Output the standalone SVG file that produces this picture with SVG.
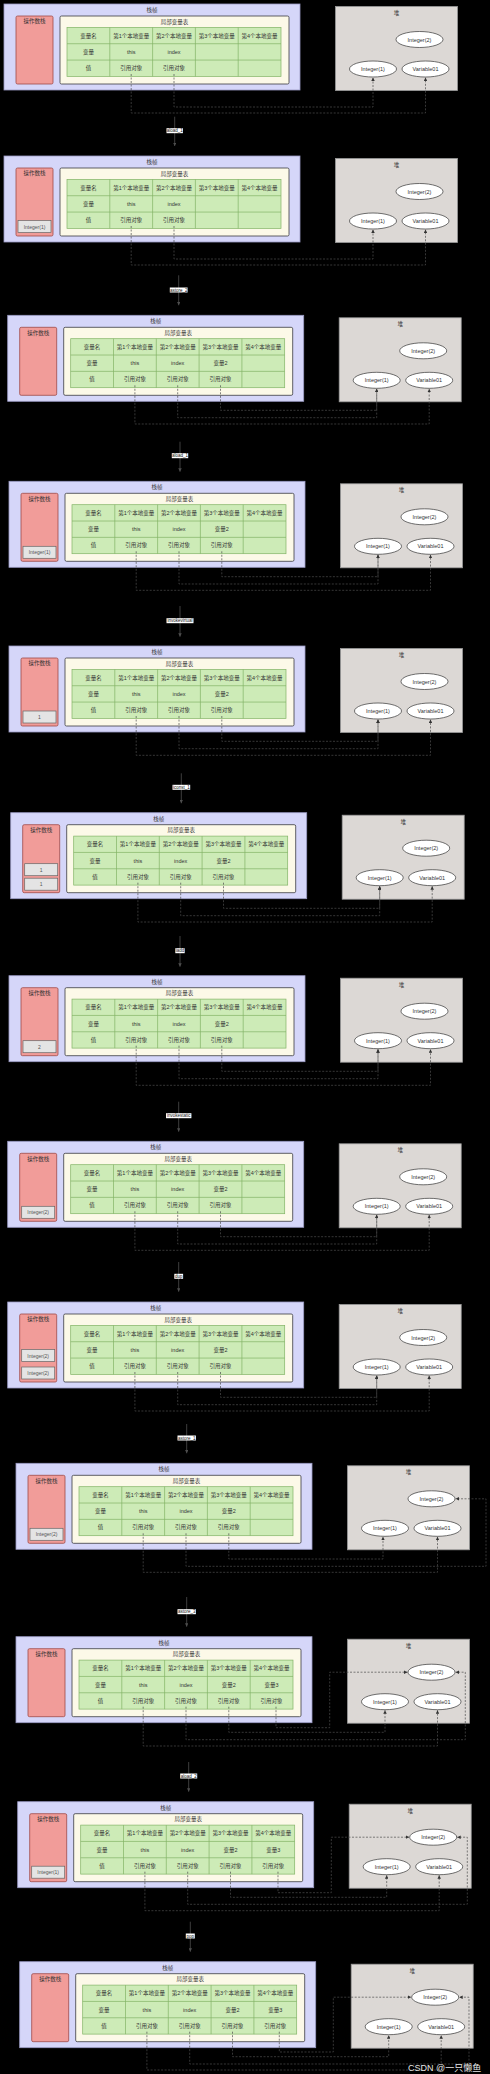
<svg xmlns="http://www.w3.org/2000/svg" xmlns:xlink="http://www.w3.org/1999/xlink" width="490" height="2074" viewBox="0 0 490 2074">
<style>
.sf{fill:#D5D6F9;stroke:#9A9AC4;stroke-width:0.8}
.os{fill:#F19C99;stroke:#9E4A47;stroke-width:0.8}
.lv{fill:#FCF9E8;stroke:#3A3A40;stroke-width:0.8}
.tb{fill:#CDEBB7;stroke:#82B366;stroke-width:0.7}
.tbl{fill:none;stroke:#82B366;stroke-width:0.7}
.hp{fill:#DCD8D5;stroke:#9A9A9A;stroke-width:0.8}
.el{fill:#FFFFFF;stroke:#333333;stroke-width:0.7}
.oi{fill:#E4E4E4;stroke:#666666;stroke-width:0.7}
.t{font-family:"Liberation Sans","Noto Sans CJK SC",sans-serif;font-size:5.5px;fill:#333;text-anchor:middle;dominant-baseline:central}
.ts{font-family:"Liberation Sans","Noto Sans CJK SC",sans-serif;font-size:5px;fill:#555;text-anchor:middle;dominant-baseline:central}
.c{fill:none;stroke:#4E4E4E;stroke-width:0.7;stroke-dasharray:2 1.5;marker-end:url(#ah)}
.tr{fill:none;stroke:#4E4E4E;stroke-width:0.8;marker-end:url(#ah2)}
.lb{fill:#FFFFFF}
.lt{font-family:"Liberation Sans",sans-serif;font-size:4.5px;fill:#111;text-anchor:middle;dominant-baseline:central}
.wm{font-family:"Liberation Sans","Noto Sans CJK SC",sans-serif;font-size:9px;fill:#E6E6E6}
</style>
<defs>
<marker id="ah" viewBox="0 0 6 6" refX="6" refY="3" markerWidth="3.5" markerHeight="3.5" orient="auto" markerUnits="userSpaceOnUse"><path d="M0,0L6,3L0,6z" fill="#333"/></marker>
<marker id="ah2" viewBox="0 0 6 6" refX="6" refY="3" markerWidth="3.5" markerHeight="3.5" orient="auto" markerUnits="userSpaceOnUse"><path d="M0,0L6,3L0,6z" fill="#4E4E4E"/></marker>
<g id="stackShape">
<rect x="0" y="0" width="296" height="86" class="sf"/>
<rect x="12" y="12" width="37" height="68" rx="1.5" class="os"/>
<rect x="56" y="12" width="229" height="68" rx="1.5" class="lv"/>
<rect x="63" y="23.4" width="214" height="49" class="tb"/>
<path d="M105.8,23.4V72.4M148.6,23.4V72.4M191.4,23.4V72.4M234.2,23.4V72.4M63,39.73H277M63,56.07H277" class="tbl"/>
</g>
<g id="heapShape">
<rect x="331.5" y="2.5" width="122" height="84" class="hp"/>
<ellipse cx="415.5" cy="35.5" rx="23.5" ry="8" class="el"/>
<ellipse cx="369" cy="65" rx="23.5" ry="8" class="el"/>
<ellipse cx="421.5" cy="65" rx="23.5" ry="8" class="el"/>
</g>
</defs>
<rect x="0" y="0" width="490" height="2074" fill="#000"/>

<!-- Frame 1 -->
<g id="frame1" transform="translate(4,4)">
<g id="f1-stack"><use href="#stackShape"/>
<text class="t" x="148" y="6">栈帧</text><text class="t" x="30.5" y="17.3">操作数栈</text><text class="t" x="170.5" y="17.8">局部变量表</text>
<text class="t" x="84.4" y="31.6">变量名</text><text class="t" x="127.2" y="31.6">第1个本地变量</text><text class="t" x="170" y="31.6">第2个本地变量</text><text class="t" x="212.8" y="31.6">第3个本地变量</text><text class="t" x="255.6" y="31.6">第4个本地变量</text>
<text class="t" x="84.4" y="47.9">变量</text><text class="t" x="127.2" y="47.9">this</text><text class="t" x="170" y="47.9">index</text>
<text class="t" x="84.4" y="64.2">值</text><text class="t" x="127.2" y="64.2">引用对象</text><text class="t" x="170" y="64.2">引用对象</text>
</g>
<g id="f1-heap"><use href="#heapShape"/>
<text class="t" x="392.5" y="9">堆</text><text class="t" x="415.5" y="35.5">Integer(2)</text><text class="t" x="369" y="65">Integer(1)</text><text class="t" x="421.5" y="65">Variable01</text>
</g>
</g>

<!-- Frame 2 -->
<g id="frame2" transform="translate(4,156)">
<g id="f2-stack"><use href="#stackShape"/>
<text class="t" x="148" y="6">栈帧</text><text class="t" x="30.5" y="17.3">操作数栈</text><text class="t" x="170.5" y="17.8">局部变量表</text>
<text class="t" x="84.4" y="31.6">变量名</text><text class="t" x="127.2" y="31.6">第1个本地变量</text><text class="t" x="170" y="31.6">第2个本地变量</text><text class="t" x="212.8" y="31.6">第3个本地变量</text><text class="t" x="255.6" y="31.6">第4个本地变量</text>
<text class="t" x="84.4" y="47.9">变量</text><text class="t" x="127.2" y="47.9">this</text><text class="t" x="170" y="47.9">index</text>
<text class="t" x="84.4" y="64.2">值</text><text class="t" x="127.2" y="64.2">引用对象</text><text class="t" x="170" y="64.2">引用对象</text>
<g id="f2-op1"><rect class="oi" x="14" y="64.5" width="33" height="12"/><text class="ts" x="30.5" y="70.5">Integer(1)</text></g>
</g>
<g id="f2-heap"><use href="#heapShape"/>
<text class="t" x="392.5" y="9">堆</text><text class="t" x="415.5" y="35.5">Integer(2)</text><text class="t" x="369" y="65">Integer(1)</text><text class="t" x="421.5" y="65">Variable01</text>
</g>
</g>

<!-- Frame 3 -->
<g id="frame3" transform="translate(7.7,315.3)">
<g id="f3-stack"><use href="#stackShape"/>
<text class="t" x="148" y="6">栈帧</text><text class="t" x="30.5" y="17.3">操作数栈</text><text class="t" x="170.5" y="17.8">局部变量表</text>
<text class="t" x="84.4" y="31.6">变量名</text><text class="t" x="127.2" y="31.6">第1个本地变量</text><text class="t" x="170" y="31.6">第2个本地变量</text><text class="t" x="212.8" y="31.6">第3个本地变量</text><text class="t" x="255.6" y="31.6">第4个本地变量</text>
<text class="t" x="84.4" y="47.9">变量</text><text class="t" x="127.2" y="47.9">this</text><text class="t" x="170" y="47.9">index</text><text class="t" x="212.8" y="47.9">变量2</text>
<text class="t" x="84.4" y="64.2">值</text><text class="t" x="127.2" y="64.2">引用对象</text><text class="t" x="170" y="64.2">引用对象</text><text class="t" x="212.8" y="64.2">引用对象</text>
</g>
<g id="f3-heap"><use href="#heapShape"/>
<text class="t" x="392.5" y="9">堆</text><text class="t" x="415.5" y="35.5">Integer(2)</text><text class="t" x="369" y="65">Integer(1)</text><text class="t" x="421.5" y="65">Variable01</text>
</g>
</g>

<!-- Frame 4 -->
<g id="frame4" transform="translate(9,481.3)">
<g id="f4-stack"><use href="#stackShape"/>
<text class="t" x="148" y="6">栈帧</text><text class="t" x="30.5" y="17.3">操作数栈</text><text class="t" x="170.5" y="17.8">局部变量表</text>
<text class="t" x="84.4" y="31.6">变量名</text><text class="t" x="127.2" y="31.6">第1个本地变量</text><text class="t" x="170" y="31.6">第2个本地变量</text><text class="t" x="212.8" y="31.6">第3个本地变量</text><text class="t" x="255.6" y="31.6">第4个本地变量</text>
<text class="t" x="84.4" y="47.9">变量</text><text class="t" x="127.2" y="47.9">this</text><text class="t" x="170" y="47.9">index</text><text class="t" x="212.8" y="47.9">变量2</text>
<text class="t" x="84.4" y="64.2">值</text><text class="t" x="127.2" y="64.2">引用对象</text><text class="t" x="170" y="64.2">引用对象</text><text class="t" x="212.8" y="64.2">引用对象</text>
<g id="f4-op1"><rect class="oi" x="14" y="65" width="33" height="12"/><text class="ts" x="30.5" y="71">Integer(1)</text></g>
</g>
<g id="f4-heap"><use href="#heapShape"/>
<text class="t" x="392.5" y="9">堆</text><text class="t" x="415.5" y="35.5">Integer(2)</text><text class="t" x="369" y="65">Integer(1)</text><text class="t" x="421.5" y="65">Variable01</text>
</g>
</g>

<!-- Frame 5 -->
<g id="frame5" transform="translate(9,646)">
<g id="f5-stack"><use href="#stackShape"/>
<text class="t" x="148" y="6">栈帧</text><text class="t" x="30.5" y="17.3">操作数栈</text><text class="t" x="170.5" y="17.8">局部变量表</text>
<text class="t" x="84.4" y="31.6">变量名</text><text class="t" x="127.2" y="31.6">第1个本地变量</text><text class="t" x="170" y="31.6">第2个本地变量</text><text class="t" x="212.8" y="31.6">第3个本地变量</text><text class="t" x="255.6" y="31.6">第4个本地变量</text>
<text class="t" x="84.4" y="47.9">变量</text><text class="t" x="127.2" y="47.9">this</text><text class="t" x="170" y="47.9">index</text><text class="t" x="212.8" y="47.9">变量2</text>
<text class="t" x="84.4" y="64.2">值</text><text class="t" x="127.2" y="64.2">引用对象</text><text class="t" x="170" y="64.2">引用对象</text><text class="t" x="212.8" y="64.2">引用对象</text>
<g id="f5-op1"><rect class="oi" x="14" y="65" width="33" height="12"/><text class="ts" x="30.5" y="71">1</text></g>
</g>
<g id="f5-heap"><use href="#heapShape"/>
<text class="t" x="392.5" y="9">堆</text><text class="t" x="415.5" y="35.5">Integer(2)</text><text class="t" x="369" y="65">Integer(1)</text><text class="t" x="421.5" y="65">Variable01</text>
</g>
</g>

<!-- Frame 6 -->
<g id="frame6" transform="translate(10.7,812.7)">
<g id="f6-stack"><use href="#stackShape"/>
<text class="t" x="148" y="6">栈帧</text><text class="t" x="30.5" y="17.3">操作数栈</text><text class="t" x="170.5" y="17.8">局部变量表</text>
<text class="t" x="84.4" y="31.6">变量名</text><text class="t" x="127.2" y="31.6">第1个本地变量</text><text class="t" x="170" y="31.6">第2个本地变量</text><text class="t" x="212.8" y="31.6">第3个本地变量</text><text class="t" x="255.6" y="31.6">第4个本地变量</text>
<text class="t" x="84.4" y="47.9">变量</text><text class="t" x="127.2" y="47.9">this</text><text class="t" x="170" y="47.9">index</text><text class="t" x="212.8" y="47.9">变量2</text>
<text class="t" x="84.4" y="64.2">值</text><text class="t" x="127.2" y="64.2">引用对象</text><text class="t" x="170" y="64.2">引用对象</text><text class="t" x="212.8" y="64.2">引用对象</text>
<g id="f6-op2"><rect class="oi" x="14" y="51" width="33" height="12"/><text class="ts" x="30.5" y="57">1</text></g>
<g id="f6-op1"><rect class="oi" x="14" y="65.5" width="33" height="12"/><text class="ts" x="30.5" y="71.5">1</text></g>
</g>
<g id="f6-heap"><use href="#heapShape"/>
<text class="t" x="392.5" y="9">堆</text><text class="t" x="415.5" y="35.5">Integer(2)</text><text class="t" x="369" y="65">Integer(1)</text><text class="t" x="421.5" y="65">Variable01</text>
</g>
</g>

<!-- Frame 7 -->
<g id="frame7" transform="translate(9,975.7)">
<g id="f7-stack"><use href="#stackShape"/>
<text class="t" x="148" y="6">栈帧</text><text class="t" x="30.5" y="17.3">操作数栈</text><text class="t" x="170.5" y="17.8">局部变量表</text>
<text class="t" x="84.4" y="31.6">变量名</text><text class="t" x="127.2" y="31.6">第1个本地变量</text><text class="t" x="170" y="31.6">第2个本地变量</text><text class="t" x="212.8" y="31.6">第3个本地变量</text><text class="t" x="255.6" y="31.6">第4个本地变量</text>
<text class="t" x="84.4" y="47.9">变量</text><text class="t" x="127.2" y="47.9">this</text><text class="t" x="170" y="47.9">index</text><text class="t" x="212.8" y="47.9">变量2</text>
<text class="t" x="84.4" y="64.2">值</text><text class="t" x="127.2" y="64.2">引用对象</text><text class="t" x="170" y="64.2">引用对象</text><text class="t" x="212.8" y="64.2">引用对象</text>
<g id="f7-op1"><rect class="oi" x="14" y="65" width="33" height="12"/><text class="ts" x="30.5" y="71">2</text></g>
</g>
<g id="f7-heap"><use href="#heapShape"/>
<text class="t" x="392.5" y="9">堆</text><text class="t" x="415.5" y="35.5">Integer(2)</text><text class="t" x="369" y="65">Integer(1)</text><text class="t" x="421.5" y="65">Variable01</text>
</g>
</g>

<!-- Frame 8 -->
<g id="frame8" transform="translate(7.7,1141.3)">
<g id="f8-stack"><use href="#stackShape"/>
<text class="t" x="148" y="6">栈帧</text><text class="t" x="30.5" y="17.3">操作数栈</text><text class="t" x="170.5" y="17.8">局部变量表</text>
<text class="t" x="84.4" y="31.6">变量名</text><text class="t" x="127.2" y="31.6">第1个本地变量</text><text class="t" x="170" y="31.6">第2个本地变量</text><text class="t" x="212.8" y="31.6">第3个本地变量</text><text class="t" x="255.6" y="31.6">第4个本地变量</text>
<text class="t" x="84.4" y="47.9">变量</text><text class="t" x="127.2" y="47.9">this</text><text class="t" x="170" y="47.9">index</text><text class="t" x="212.8" y="47.9">变量2</text>
<text class="t" x="84.4" y="64.2">值</text><text class="t" x="127.2" y="64.2">引用对象</text><text class="t" x="170" y="64.2">引用对象</text><text class="t" x="212.8" y="64.2">引用对象</text>
<g id="f8-op1"><rect class="oi" x="14" y="65" width="33" height="12"/><text class="ts" x="30.5" y="71">Integer(2)</text></g>
</g>
<g id="f8-heap"><use href="#heapShape"/>
<text class="t" x="392.5" y="9">堆</text><text class="t" x="415.5" y="35.5">Integer(2)</text><text class="t" x="369" y="65">Integer(1)</text><text class="t" x="421.5" y="65">Variable01</text>
</g>
</g>

<!-- Frame 9 -->
<g id="frame9" transform="translate(7.7,1302)">
<g id="f9-stack"><use href="#stackShape"/>
<text class="t" x="148" y="6">栈帧</text><text class="t" x="30.5" y="17.3">操作数栈</text><text class="t" x="170.5" y="17.8">局部变量表</text>
<text class="t" x="84.4" y="31.6">变量名</text><text class="t" x="127.2" y="31.6">第1个本地变量</text><text class="t" x="170" y="31.6">第2个本地变量</text><text class="t" x="212.8" y="31.6">第3个本地变量</text><text class="t" x="255.6" y="31.6">第4个本地变量</text>
<text class="t" x="84.4" y="47.9">变量</text><text class="t" x="127.2" y="47.9">this</text><text class="t" x="170" y="47.9">index</text><text class="t" x="212.8" y="47.9">变量2</text>
<text class="t" x="84.4" y="64.2">值</text><text class="t" x="127.2" y="64.2">引用对象</text><text class="t" x="170" y="64.2">引用对象</text><text class="t" x="212.8" y="64.2">引用对象</text>
<g id="f9-op2"><rect class="oi" x="14" y="47.5" width="33" height="12"/><text class="ts" x="30.5" y="53.5">Integer(2)</text></g>
<g id="f9-op1"><rect class="oi" x="14" y="65" width="33" height="12"/><text class="ts" x="30.5" y="71">Integer(2)</text></g>
</g>
<g id="f9-heap"><use href="#heapShape"/>
<text class="t" x="392.5" y="9">堆</text><text class="t" x="415.5" y="35.5">Integer(2)</text><text class="t" x="369" y="65">Integer(1)</text><text class="t" x="421.5" y="65">Variable01</text>
</g>
</g>

<!-- Frame 10 -->
<g id="frame10" transform="translate(16,1463.3)">
<g id="f10-stack"><use href="#stackShape"/>
<text class="t" x="148" y="6">栈帧</text><text class="t" x="30.5" y="17.3">操作数栈</text><text class="t" x="170.5" y="17.8">局部变量表</text>
<text class="t" x="84.4" y="31.6">变量名</text><text class="t" x="127.2" y="31.6">第1个本地变量</text><text class="t" x="170" y="31.6">第2个本地变量</text><text class="t" x="212.8" y="31.6">第3个本地变量</text><text class="t" x="255.6" y="31.6">第4个本地变量</text>
<text class="t" x="84.4" y="47.9">变量</text><text class="t" x="127.2" y="47.9">this</text><text class="t" x="170" y="47.9">index</text><text class="t" x="212.8" y="47.9">变量2</text>
<text class="t" x="84.4" y="64.2">值</text><text class="t" x="127.2" y="64.2">引用对象</text><text class="t" x="170" y="64.2">引用对象</text><text class="t" x="212.8" y="64.2">引用对象</text>
<g id="f10-op1"><rect class="oi" x="14" y="65" width="33" height="12"/><text class="ts" x="30.5" y="71">Integer(2)</text></g>
</g>
<g id="f10-heap"><use href="#heapShape"/>
<text class="t" x="392.5" y="9">堆</text><text class="t" x="415.5" y="35.5">Integer(2)</text><text class="t" x="369" y="65">Integer(1)</text><text class="t" x="421.5" y="65">Variable01</text>
</g>
</g>

<!-- Frame 11 -->
<g id="frame11" transform="translate(16,1636.7)">
<g id="f11-stack"><use href="#stackShape"/>
<text class="t" x="148" y="6">栈帧</text><text class="t" x="30.5" y="17.3">操作数栈</text><text class="t" x="170.5" y="17.8">局部变量表</text>
<text class="t" x="84.4" y="31.6">变量名</text><text class="t" x="127.2" y="31.6">第1个本地变量</text><text class="t" x="170" y="31.6">第2个本地变量</text><text class="t" x="212.8" y="31.6">第3个本地变量</text><text class="t" x="255.6" y="31.6">第4个本地变量</text>
<text class="t" x="84.4" y="47.9">变量</text><text class="t" x="127.2" y="47.9">this</text><text class="t" x="170" y="47.9">index</text><text class="t" x="212.8" y="47.9">变量2</text><text class="t" x="255.6" y="47.9">变量3</text>
<text class="t" x="84.4" y="64.2">值</text><text class="t" x="127.2" y="64.2">引用对象</text><text class="t" x="170" y="64.2">引用对象</text><text class="t" x="212.8" y="64.2">引用对象</text><text class="t" x="255.6" y="64.2">引用对象</text>
</g>
<g id="f11-heap"><use href="#heapShape"/>
<text class="t" x="392.5" y="9">堆</text><text class="t" x="415.5" y="35.5">Integer(2)</text><text class="t" x="369" y="65">Integer(1)</text><text class="t" x="421.5" y="65">Variable01</text>
</g>
</g>

<!-- Frame 12 -->
<g id="frame12" transform="translate(17.7,1801.7)">
<g id="f12-stack"><use href="#stackShape"/>
<text class="t" x="148" y="6">栈帧</text><text class="t" x="30.5" y="17.3">操作数栈</text><text class="t" x="170.5" y="17.8">局部变量表</text>
<text class="t" x="84.4" y="31.6">变量名</text><text class="t" x="127.2" y="31.6">第1个本地变量</text><text class="t" x="170" y="31.6">第2个本地变量</text><text class="t" x="212.8" y="31.6">第3个本地变量</text><text class="t" x="255.6" y="31.6">第4个本地变量</text>
<text class="t" x="84.4" y="47.9">变量</text><text class="t" x="127.2" y="47.9">this</text><text class="t" x="170" y="47.9">index</text><text class="t" x="212.8" y="47.9">变量2</text><text class="t" x="255.6" y="47.9">变量3</text>
<text class="t" x="84.4" y="64.2">值</text><text class="t" x="127.2" y="64.2">引用对象</text><text class="t" x="170" y="64.2">引用对象</text><text class="t" x="212.8" y="64.2">引用对象</text><text class="t" x="255.6" y="64.2">引用对象</text>
<g id="f12-op1"><rect class="oi" x="14" y="64.5" width="33" height="12"/><text class="ts" x="30.5" y="70.5">Integer(1)</text></g>
</g>
<g id="f12-heap"><use href="#heapShape"/>
<text class="t" x="392.5" y="9">堆</text><text class="t" x="415.5" y="35.5">Integer(2)</text><text class="t" x="369" y="65">Integer(1)</text><text class="t" x="421.5" y="65">Variable01</text>
</g>
</g>

<!-- Frame 13 -->
<g id="frame13" transform="translate(19.7,1961.7)">
<g id="f13-stack"><use href="#stackShape"/>
<text class="t" x="148" y="6">栈帧</text><text class="t" x="30.5" y="17.3">操作数栈</text><text class="t" x="170.5" y="17.8">局部变量表</text>
<text class="t" x="84.4" y="31.6">变量名</text><text class="t" x="127.2" y="31.6">第1个本地变量</text><text class="t" x="170" y="31.6">第2个本地变量</text><text class="t" x="212.8" y="31.6">第3个本地变量</text><text class="t" x="255.6" y="31.6">第4个本地变量</text>
<text class="t" x="84.4" y="47.9">变量</text><text class="t" x="127.2" y="47.9">this</text><text class="t" x="170" y="47.9">index</text><text class="t" x="212.8" y="47.9">变量2</text><text class="t" x="255.6" y="47.9">变量3</text>
<text class="t" x="84.4" y="64.2">值</text><text class="t" x="127.2" y="64.2">引用对象</text><text class="t" x="170" y="64.2">引用对象</text><text class="t" x="212.8" y="64.2">引用对象</text><text class="t" x="255.6" y="64.2">引用对象</text>
</g>
<g id="f13-heap"><use href="#heapShape"/>
<text class="t" x="392.5" y="9">堆</text><text class="t" x="415.5" y="35.5">Integer(2)</text><text class="t" x="369" y="65">Integer(1)</text><text class="t" x="421.5" y="65">Variable01</text>
</g>
</g>

<!-- Connectors -->
<g id="connectors">
<g id="c-f1" transform="translate(4,4)"><path class="c" d="M127.2,70V109H421.5V73.5"/><path class="c" d="M170,70V103H369V73.5"/></g>
<g id="c-f2" transform="translate(4,156)"><path class="c" d="M127.2,70V109H421.5V73.5"/><path class="c" d="M170,70V103H369V73.5"/></g>
<g id="c-f3" transform="translate(7.7,315.3)"><path class="c" d="M127.2,70V108.7H421.5V73.5"/><path class="c" d="M170,70V102.4H369V73.5"/><path class="c" d="M212.8,70V95H369V73.5"/></g>
<g id="c-f4" transform="translate(9,481.3)"><path class="c" d="M127.2,70V109H421.5V73.5"/><path class="c" d="M170,70V102.7H369V73.5"/><path class="c" d="M212.8,70V95.4H369V73.5"/></g>
<g id="c-f5" transform="translate(9,646)"><path class="c" d="M127.2,70V109.3H421.5V73.5"/><path class="c" d="M170,70V102.7H369V73.5"/><path class="c" d="M212.8,70V95.3H369V73.5"/></g>
<g id="c-f6" transform="translate(10.7,812.7)"><path class="c" d="M127.2,70V109.3H421.5V73.5"/><path class="c" d="M170,70V103H369V73.5"/><path class="c" d="M212.8,70V95.6H369V73.5"/></g>
<g id="c-f7" transform="translate(9,975.7)"><path class="c" d="M127.2,70V109.6H421.5V73.5"/><path class="c" d="M170,70V103H369V73.5"/><path class="c" d="M212.8,70V95.6H369V73.5"/></g>
<g id="c-f8" transform="translate(7.7,1141.3)"><path class="c" d="M127.2,70V109H421.5V73.5"/><path class="c" d="M170,70V102.7H369V73.5"/><path class="c" d="M212.8,70V95.4H369V73.5"/></g>
<g id="c-f9" transform="translate(7.7,1302)"><path class="c" d="M127.2,70V109H421.5V73.5"/><path class="c" d="M170,70V102.7H369V73.5"/><path class="c" d="M212.8,70V95.3H369V73.5"/></g>
<g id="c-f10" transform="translate(16,1463.3)"><path class="c" d="M127.2,70V109H421.5V73.5"/><path class="c" d="M170,70V103H470V35.5H439.5"/><path class="c" d="M212.8,70V95.7H367V73.5"/></g>
<g id="c-f11" transform="translate(16,1636.7)"><path class="c" d="M127.2,70V109.3H421.5V73.5"/><path class="c" d="M170,70V103H449.3V35.5H439.5"/><path class="c" d="M212.8,70V95.6H369V73.5"/><path class="c" d="M260,70V91H313.7V35.5H391.5"/></g>
<g id="c-f12" transform="translate(17.7,1801.7)"><path class="c" d="M127.2,70V109H421.5V73.5"/><path class="c" d="M170,70V102.6H449.6V35.5H439.5"/><path class="c" d="M212.8,70V95.6H369V73.5"/><path class="c" d="M260.3,70V91H313.6V35.5H391.5"/></g>
<g id="c-f13" transform="translate(19.7,1961.7)"><path class="c" d="M127.2,70V108.3H421.5V73.5"/><path class="c" d="M170,70V102.3H449.3V35.5H439.5"/><path class="c" d="M212.8,70V95H369V73.5"/><path class="c" d="M259.6,70V90.3H313.6V35.5H391.5"/></g>

<g id="t1"><path class="tr" d="M174.7,116.7V146"/><rect class="lb" x="166.5" y="128.2" width="16.4" height="5"/><text class="lt" x="174.7" y="130.7">aload_1</text></g>
<g id="t2"><path class="tr" d="M178.7,275.3V305.3"/><rect class="lb" x="169.8" y="287.5" width="17.8" height="5"/><text class="lt" x="178.7" y="290">astore_2</text></g>
<g id="t3"><path class="tr" d="M180,441.7V471.7"/><rect class="lb" x="171.8" y="453.2" width="16.4" height="5"/><text class="lt" x="180" y="455.7">aload_1</text></g>
<g id="t4"><path class="tr" d="M180,606V636.7"/><rect class="lb" x="166.5" y="618.2" width="27" height="5"/><text class="lt" x="180" y="620.7">invokevirtual</text></g>
<g id="t5"><path class="tr" d="M181.3,773.3V803.3"/><rect class="lb" x="172.5" y="784.8" width="17.7" height="5"/><text class="lt" x="181.3" y="787.3">iconst_1</text></g>
<g id="t6"><path class="tr" d="M180,936V966.7"/><rect class="lb" x="175.3" y="948.2" width="9.4" height="5"/><text class="lt" x="180" y="950.7">iadd</text></g>
<g id="t7"><path class="tr" d="M178.7,1101.7V1131.7"/><rect class="lb" x="166" y="1113.2" width="25.4" height="5"/><text class="lt" x="178.7" y="1115.7">invokestatic</text></g>
<g id="t8"><path class="tr" d="M178.7,1262V1291.7"/><rect class="lb" x="174.3" y="1273.8" width="8.8" height="5"/><text class="lt" x="178.7" y="1276.3">dup</text></g>
<g id="t9"><path class="tr" d="M186.7,1424V1453.3"/><rect class="lb" x="177.5" y="1435.5" width="18.4" height="5"/><text class="lt" x="186.7" y="1438">astore_1</text></g>
<g id="t10"><path class="tr" d="M186.7,1597V1626.7"/><rect class="lb" x="177.5" y="1609.2" width="18.4" height="5"/><text class="lt" x="186.7" y="1611.7">astore_3</text></g>
<g id="t11"><path class="tr" d="M188.7,1762V1791.7"/><rect class="lb" x="180.2" y="1773.5" width="17" height="5"/><text class="lt" x="188.7" y="1776">aload_2</text></g>
<g id="t12"><path class="tr" d="M190.3,1921.7V1951.7"/><rect class="lb" x="185.8" y="1933.5" width="9" height="5"/><text class="lt" x="190.3" y="1936">pop</text></g>
</g>

<text class="wm" x="408" y="2071">CSDN @一只懒鱼</text>
</svg>
